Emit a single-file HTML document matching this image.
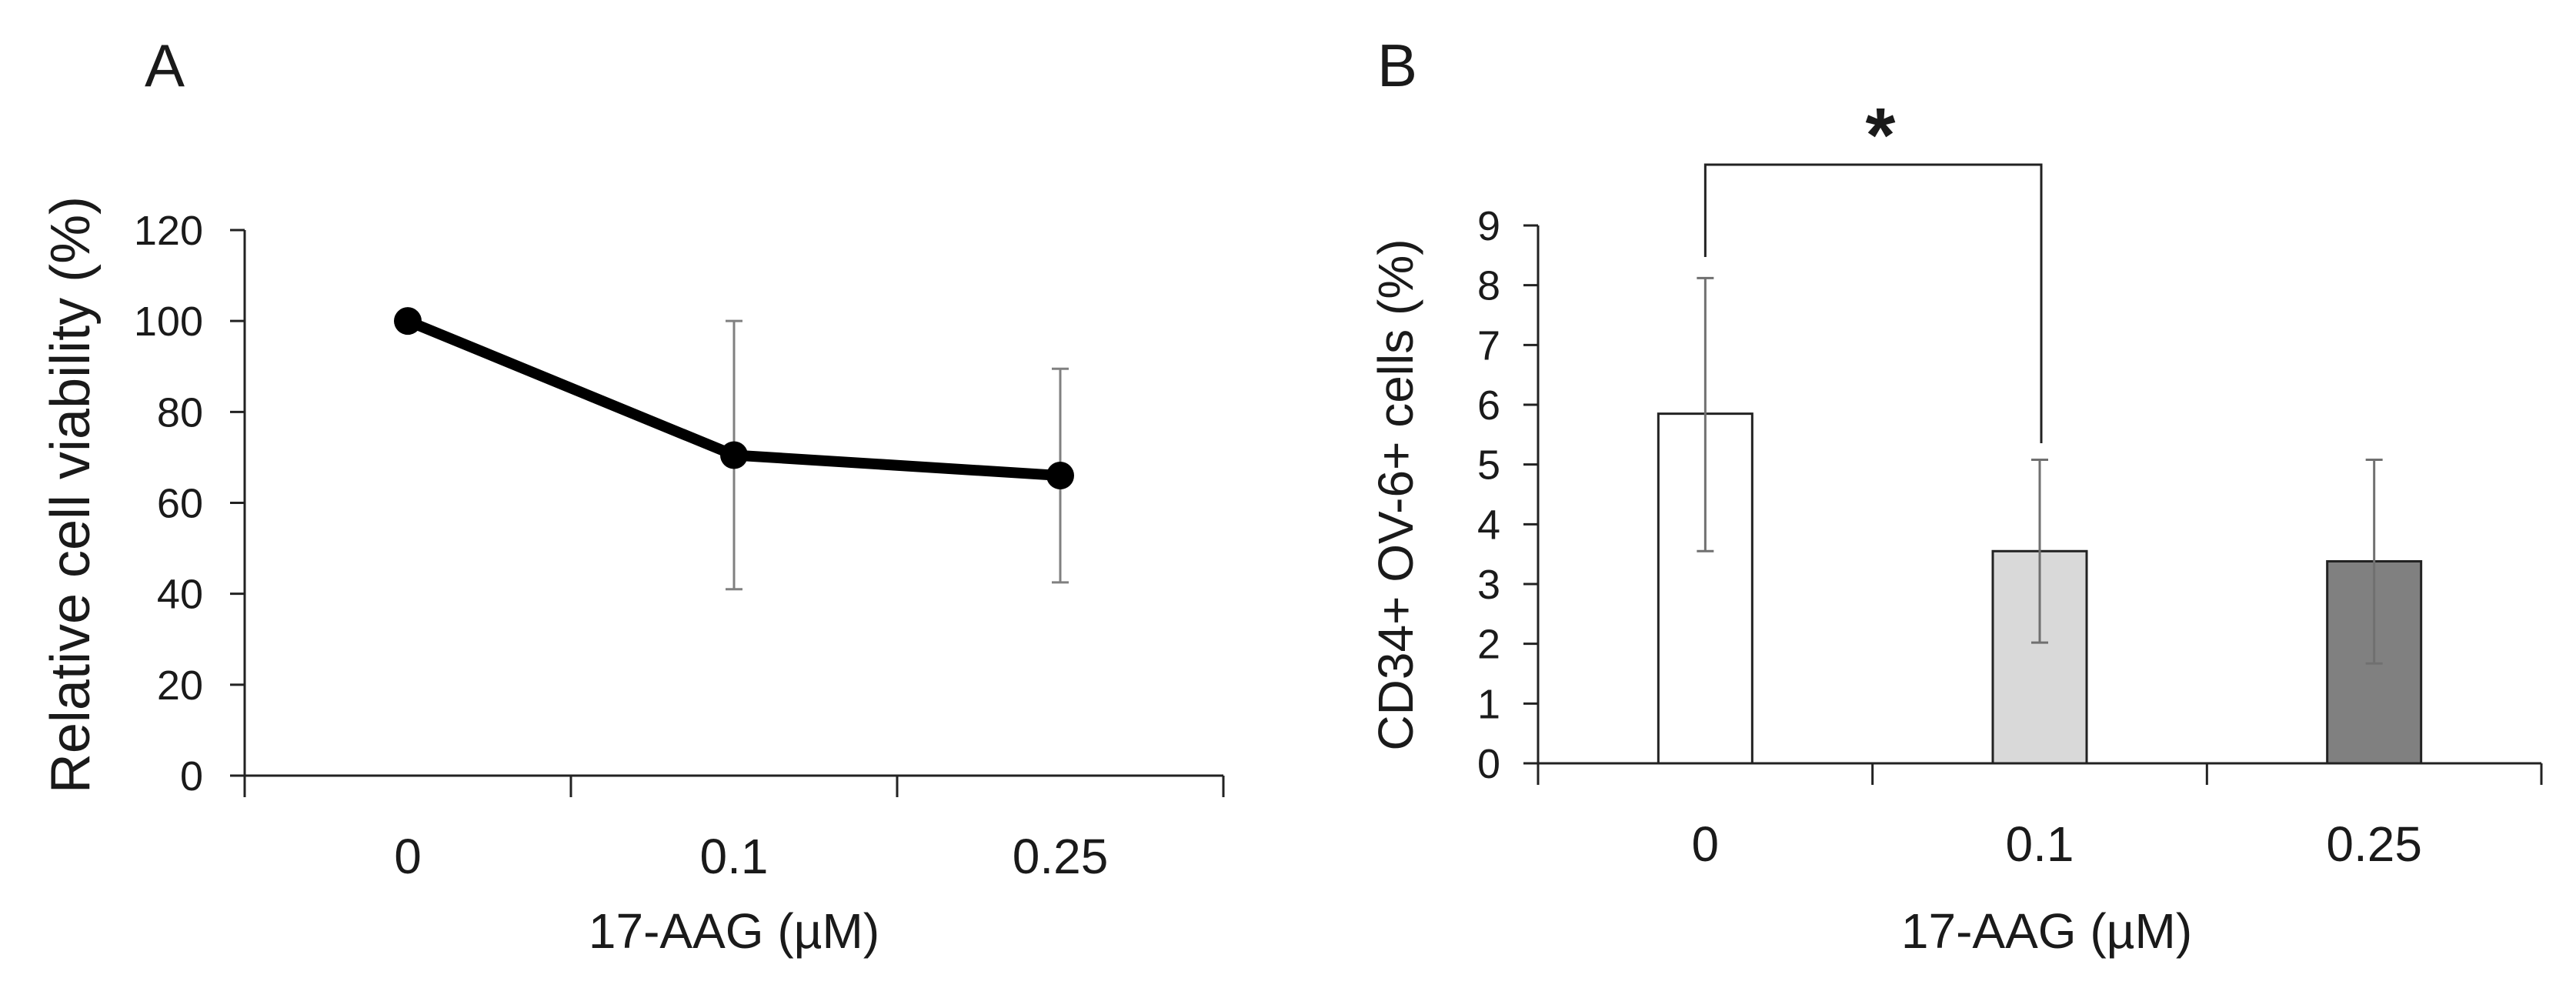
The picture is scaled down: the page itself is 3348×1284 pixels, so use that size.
<!DOCTYPE html>
<html><head><meta charset="utf-8"><style>
html,body{margin:0;padding:0;background:#fff}
svg{display:block}
text{font-family:"Liberation Sans",sans-serif;fill:#1a1a1a}
</style></head><body>
<svg id="fig" width="3348" height="1284" viewBox="0 0 3348 1284" xmlns="http://www.w3.org/2000/svg">
<g id="pa"></g>
<g id="pb"></g>
</svg>
<script>
const catsA=["0","0.1","0.25"];
const valsA=[100,70.5,66];
const errLoA=[null,41,42.5];
const errHiA=[null,100,89.5];
const ticksA=[0,20,40,60,80,100,120];

const catsB=["0","0.1","0.25"];
const valsB=[5.85,3.55,3.38];
const errLoB=[3.55,2.02,1.67];
const errHiB=[8.12,5.08,5.08];
const ticksB=[0,1,2,3,4,5,6,7,8,9];
const fillsB=["#ffffff","#d9d9d9","#808080"];

const NS="http://www.w3.org/2000/svg";
function mk(parent,tag,attrs,txt){const e=document.createElementNS(NS,tag);for(const k in attrs)e.setAttribute(k,attrs[k]);if(txt!==undefined)e.textContent=txt;parent.appendChild(e);return e;}

// Panel A
const pa=document.getElementById('pa');
const axA={x0:318,x1:1590,y0:1008,y1:299,max:120};
const yA=v=>axA.y0-(v/axA.max)*(axA.y0-axA.y1);
const bandA=(axA.x1-axA.x0)/catsA.length;
const xA=i=>axA.x0+bandA*(i+0.5);
let e;
e=mk(pa,'text',{x:188,y:112,'font-size':78},'A');

e=mk(pa,'line',{x1:axA.x0,y1:axA.y0,x2:axA.x0,y2:axA.y1,stroke:'#222','stroke-width':3});

e=mk(pa,'line',{x1:axA.x0-19,y1:axA.y0,x2:axA.x1,y2:axA.y0,stroke:'#222','stroke-width':3});

ticksA.forEach(t=>{
  mk(pa,'line',{x1:axA.x0-19,y1:yA(t),x2:axA.x0,y2:yA(t),stroke:'#222','stroke-width':3});
  e=mk(pa,'text',{x:264,y:yA(t)+19,'font-size':54,'text-anchor':'end'},String(t));
  
});
for(let i=0;i<=catsA.length;i++){mk(pa,'line',{x1:axA.x0+bandA*i,y1:axA.y0,x2:axA.x0+bandA*i,y2:axA.y0+28,stroke:'#222','stroke-width':3});}
catsA.forEach((c,i)=>{
  e=mk(pa,'text',{x:xA(i),y:1135,'font-size':64,'text-anchor':'middle'},c);
  
});
e=mk(pa,'text',{x:954,y:1232,'font-size':64,'text-anchor':'middle'},'17-AAG (µM)');

e=mk(pa,'text',{x:0,y:0,'font-size':72,'text-anchor':'middle',transform:'translate(116,643) rotate(-90)'},'Relative cell viability (%)');

valsA.forEach((v,i)=>{
  if(errLoA[i]!==null){
    const g=mk(pa,'g',{stroke:'#808080','stroke-width':3});
    
    mk(g,'line',{x1:xA(i),y1:yA(errLoA[i]),x2:xA(i),y2:yA(errHiA[i])});
    mk(g,'line',{x1:xA(i)-11,y1:yA(errLoA[i]),x2:xA(i)+11,y2:yA(errLoA[i])});
    mk(g,'line',{x1:xA(i)-11,y1:yA(errHiA[i]),x2:xA(i)+11,y2:yA(errHiA[i])});
  }
});
e=mk(pa,'polyline',{points:valsA.map((v,i)=>xA(i)+','+yA(v)).join(' '),fill:'none',stroke:'#000','stroke-width':14,'stroke-linejoin':'round'});

valsA.forEach((v,i)=>{
  e=mk(pa,'circle',{cx:xA(i),cy:yA(v),r:18,fill:'#000'});
  
});

// Panel B
const pb=document.getElementById('pb');
const axB={x0:1999,x1:3303,y0:992,y1:293,max:9};
const yB=v=>axB.y0-(v/axB.max)*(axB.y0-axB.y1);
const bandB=(axB.x1-axB.x0)/catsB.length;
const xB=i=>axB.x0+bandB*(i+0.5);
const barW=122;
e=mk(pb,'text',{x:1790,y:112,'font-size':78},'B');

e=mk(pb,'line',{x1:axB.x0,y1:axB.y0,x2:axB.x0,y2:axB.y1,stroke:'#222','stroke-width':3});

ticksB.forEach(t=>{
  mk(pb,'line',{x1:axB.x0-19,y1:yB(t),x2:axB.x0,y2:yB(t),stroke:'#222','stroke-width':3});
  e=mk(pb,'text',{x:1950,y:yB(t)+19,'font-size':54,'text-anchor':'end'},String(t));
  
});
valsB.forEach((v,i)=>{
  e=mk(pb,'rect',{x:xB(i)-barW/2,y:yB(v),width:barW,height:yB(0)-yB(v),fill:fillsB[i],stroke:'#222','stroke-width':3});
  
  const g=mk(pb,'g',{stroke:'#707070','stroke-width':3});
  
  mk(g,'line',{x1:xB(i),y1:yB(errLoB[i]),x2:xB(i),y2:yB(errHiB[i])});
  mk(g,'line',{x1:xB(i)-11,y1:yB(errLoB[i]),x2:xB(i)+11,y2:yB(errLoB[i])});
  mk(g,'line',{x1:xB(i)-11,y1:yB(errHiB[i]),x2:xB(i)+11,y2:yB(errHiB[i])});
});
e=mk(pb,'line',{x1:axB.x0-19,y1:axB.y0,x2:axB.x1,y2:axB.y0,stroke:'#222','stroke-width':3});

for(let i=0;i<=catsB.length;i++){mk(pb,'line',{x1:axB.x0+bandB*i,y1:axB.y0,x2:axB.x0+bandB*i,y2:axB.y0+28,stroke:'#222','stroke-width':3});}
catsB.forEach((c,i)=>{
  e=mk(pb,'text',{x:xB(i),y:1119,'font-size':64,'text-anchor':'middle'},c);
  
});
e=mk(pb,'text',{x:2660,y:1232,'font-size':64,'text-anchor':'middle'},'17-AAG (µM)');

e=mk(pb,'text',{x:0,y:0,'font-size':64,'text-anchor':'middle',transform:'translate(1836,643) rotate(-90)'},'CD34+ OV-6+ cells (%)');

e=mk(pb,'polyline',{points:xB(0)+',334 '+xB(0)+',214 '+(xB(1)+2)+',214 '+(xB(1)+2)+',576',fill:'none',stroke:'#222','stroke-width':3});

e=mk(pb,'text',{x:2444,y:210,'font-size':100,'font-weight':'bold','text-anchor':'middle'},'*');

</script>
</body></html>
